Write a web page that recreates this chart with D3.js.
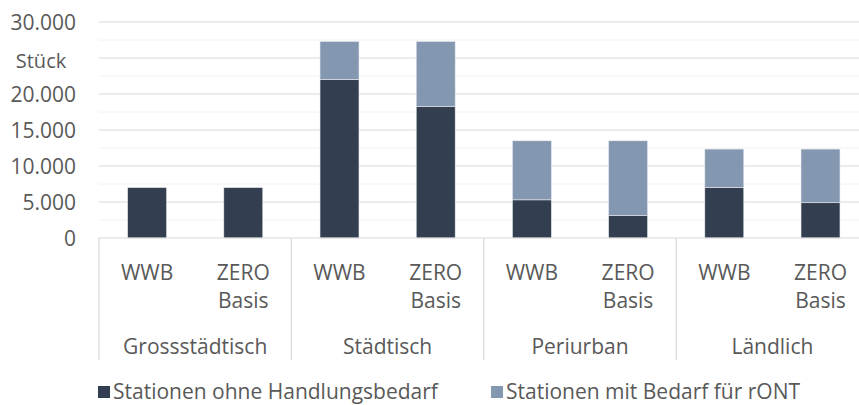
<!DOCTYPE html>
<html>
<head>
<meta charset="utf-8">
<script src="https://cdn.jsdelivr.net/npm/d3@7"></script>
<style>
  html, body { margin: 0; padding: 0; background: #fff; }
  svg { display: block; font-family: "Open Sans", "Noto Sans", sans-serif; }
  text { fill: #595959; }
</style>
</head>
<body>
<svg id="chart" width="859" height="405"></svg>
<script>
// Area types and the two scenarios shown per area
const groups = ["Grossstädtisch", "Städtisch", "Periurban", "Ländlich"];
const scenarios = [["WWB"], ["ZERO", "Basis"]];
const scenarioKeys = ["WWB", "ZERO Basis"];

// Stations (count) per area and scenario, in group order: WWB, ZERO Basis
const ohneHandlungsbedarf = [7000, 7000, 22000, 18250, 5300, 3100, 7000, 4900];
const bedarfRont          = [0, 0, 5300, 9050, 8200, 10400, 5350, 7450];

const seriesNames = ["Stationen ohne Handlungsbedarf", "Stationen mit Bedarf für rONT"];
const seriesColors = ["#333f50", "#8497b0"];

const yTicks = [0, 5000, 10000, 15000, 20000, 25000, 30000];
const yUnit = "Stück";

const svg = d3.select("#chart");
const plotLeft = 99, plotRight = 868.6, plotTop = 22, plotBottom = 238;
const fs = 21;

const rows = [];
groups.forEach((g, gi) => scenarioKeys.forEach((s, si) => {
  const i = gi * 2 + si;
  rows.push({ key: g + "|" + s, group: g, scen: scenarios[si], a: ohneHandlungsbedarf[i], b: bedarfRont[i] });
}));

const x = d3.scaleBand().domain(rows.map(d => d.key)).range([plotLeft, plotRight])
  .paddingInner(0.595).paddingOuter(0.2975);
const xg = d3.scaleBand().domain(groups).range([plotLeft, plotRight]);
const y = d3.scaleLinear().domain([0, 30000]).range([plotBottom, plotTop]);

const de = d3.formatLocale({ decimal: ",", thousands: ".", grouping: [3], currency: ["", " €"] });
const fmt = de.format(",.0f");

// minor gridlines
svg.append("g").selectAll("line")
  .data(d3.range(2500, 30000, 5000)).join("line")
  .attr("x1", plotLeft).attr("x2", plotRight)
  .attr("y1", d => y(d)).attr("y2", d => y(d))
  .attr("stroke", "#f2f2f2").attr("stroke-width", 1);

// major gridlines
svg.append("g").selectAll("line")
  .data(yTicks.filter(v => v > 0)).join("line")
  .attr("x1", plotLeft).attr("x2", plotRight)
  .attr("y1", d => y(d)).attr("y2", d => y(d))
  .attr("stroke", "#d9d9d9").attr("stroke-width", 1);

// y axis labels (the unit takes the place of the 25.000 label)
const yAxis = svg.append("g")
  .attr("transform", `translate(${plotLeft},0)`)
  .call(d3.axisLeft(y).tickValues(yTicks).tickFormat(v => v === 25000 ? "" : fmt(v)).tickSize(0).tickPadding(23));
yAxis.select(".domain").remove();
yAxis.selectAll("text").attr("font-size", fs).attr("fill", "#595959")
  .attr("font-family", "'Open Sans', sans-serif").attr("dy", "0.36em");

svg.append("text").attr("x", 41).attr("y", y(25000) + 10)
  .attr("text-anchor", "middle").attr("font-size", 20).text(yUnit);

// stacked bars
const bars = svg.append("g");
bars.selectAll("rect.a").data(rows).join("rect").attr("class", "a")
  .attr("x", d => x(d.key)).attr("width", x.bandwidth())
  .attr("y", d => y(d.a)).attr("height", d => y(0) - y(d.a))
  .attr("fill", seriesColors[0]).attr("stroke", "#e6e9ee").attr("stroke-width", 0.6);
bars.selectAll("rect.b").data(rows.filter(d => d.b > 0)).join("rect").attr("class", "b")
  .attr("x", d => x(d.key)).attr("width", x.bandwidth())
  .attr("y", d => y(d.a + d.b)).attr("height", d => y(d.a) - y(d.a + d.b))
  .attr("fill", seriesColors[1]).attr("stroke", "#e6e9ee").attr("stroke-width", 0.6);

// category axis line and group separators
svg.append("line").attr("x1", plotLeft).attr("x2", plotRight).attr("y1", plotBottom).attr("y2", plotBottom)
  .attr("stroke", "#d9d9d9").attr("stroke-width", 1.2);
svg.append("g").selectAll("line")
  .data(groups.concat(["end"])).join("line")
  .attr("x1", (d, i) => plotLeft + i * xg.bandwidth()).attr("x2", (d, i) => plotLeft + i * xg.bandwidth())
  .attr("y1", plotBottom).attr("y2", 360)
  .attr("stroke", "#d9d9d9").attr("stroke-width", 1.2);

// scenario labels
const sl = svg.append("g").selectAll("text").data(rows).join("text")
  .attr("text-anchor", "middle").attr("font-size", fs)
  .attr("transform", d => `translate(${x(d.key) + x.bandwidth() / 2},0)`);
sl.selectAll("tspan").data(d => d.scen).join("tspan")
  .attr("x", 0).attr("y", (d, i) => 280 + i * 28).text(d => d);

// group labels
svg.append("g").selectAll("text").data(groups).join("text")
  .attr("x", d => xg(d) + xg.bandwidth() / 2).attr("y", 354)
  .attr("text-anchor", "middle").attr("font-size", fs).text(d => d);

// legend
const legX = [98, 491];
const leg = svg.append("g").selectAll("g").data(seriesNames).join("g")
  .attr("transform", (d, i) => `translate(${legX[i]},0)`);
leg.append("rect").attr("x", 0).attr("y", 386).attr("width", 12).attr("height", 12)
  .attr("fill", (d, i) => seriesColors[i]);
leg.append("text").attr("x", 15).attr("y", 398.5).attr("font-size", fs).text(d => d);
</script>
</body>
</html>
